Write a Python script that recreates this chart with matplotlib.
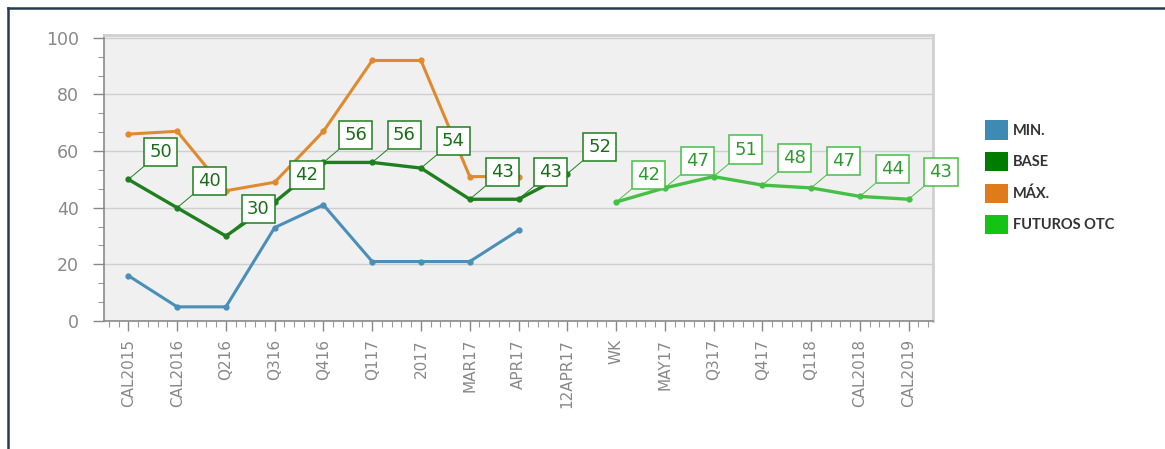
import numpy as np
import matplotlib
matplotlib.use('Agg')
import matplotlib.pyplot as plt
from matplotlib.patches import Patch
from matplotlib.lines import Line2D
from matplotlib.ticker import MultipleLocator, AutoMinorLocator

categories = ['CAL2015', 'CAL2016', 'Q216', 'Q316', 'Q416', 'Q117', '2017',
              'MAR17', 'APR17', '12APR17', 'WK', 'MAY17', 'Q317', 'Q417',
              'Q118', 'CAL2018', 'CAL2019']
nan = np.nan
min_vals  = [16, 5, 5, 33, 41, 21, 21, 21, 32, nan, nan, nan, nan, nan, nan, nan, nan]
max_vals  = [66, 67, 46, 49, 67, 92, 92, 51, 51, nan, nan, nan, nan, nan, nan, nan, nan]
base_vals = [50, 40, 30, 42, 56, 56, 54, 43, 43, 52, nan, nan, nan, nan, nan, nan, nan]
otc_vals  = [nan, nan, nan, nan, nan, nan, nan, nan, nan, nan, 42, 47, 51, 48, 47, 44, 43]

c_min  = '#4a8fb8'
c_max  = '#e08a30'
c_base = '#1f7f1f'
c_otc  = '#45c045'

fig = plt.figure(figsize=(11.65, 4.49), dpi=100)
ax = fig.add_axes([104/1165, 128/449, 829/1165, 286/449])
ax.set_facecolor('#f0f0f0')

x = np.arange(len(categories))
ax.plot(x, min_vals, color=c_min, lw=2.2, marker='o', ms=3.5, zorder=3)
ax.plot(x, max_vals, color=c_max, lw=2.2, marker='o', ms=3.5, zorder=3)
ax.plot(x, base_vals, color=c_base, lw=2.4, marker='o', ms=3.5, zorder=4)
ax.plot(x, otc_vals, color=c_otc, lw=2.4, marker='o', ms=3.5, zorder=4)

# value labels with leader lines
def label_series(vals, col, txtcol):
    for i, v in enumerate(vals):
        if np.isnan(v):
            continue
        ax.annotate('%d' % round(v), xy=(i, v), xytext=(15, 13), textcoords='offset points',
                    ha='left', va='bottom', fontsize=13, color=txtcol, zorder=6,
                    bbox=dict(boxstyle='square,pad=0.28', fc='white', ec=col, lw=1.1),
                    arrowprops=dict(arrowstyle='-', color=col, lw=0.7, shrinkA=0, shrinkB=0))

label_series(base_vals, c_base, '#1a6e1a')
label_series(otc_vals, c_otc, '#2e9a2e')

ax.set_xlim(-0.5, len(categories) - 0.5)
ax.set_ylim(0, 101)
ax.set_xticks(x)
ax.set_xticklabels(categories, rotation=90, fontsize=11, color='#888888')
ax.xaxis.set_minor_locator(AutoMinorLocator(5))
ax.set_yticks([0, 20, 40, 60, 80, 100])
ax.yaxis.set_minor_locator(MultipleLocator(20/3))
ax.tick_params(axis='y', labelsize=12.5, colors='#888888', length=8, width=1, pad=10)
ax.tick_params(axis='x', length=7, width=1, colors='#888888', pad=6)
ax.tick_params(which='minor', length=4, width=0.8, colors='#999999')
ax.grid(axis='y', color='#cfcfcf', lw=1)
ax.set_axisbelow(True)
for s in ['left', 'bottom']:
    ax.spines[s].set_color('#8a8a8a')
    ax.spines[s].set_linewidth(1.2)
for s in ['top', 'right']:
    ax.spines[s].set_color('#d0d0d0')
    ax.spines[s].set_linewidth(2)

handles = [Patch(facecolor='#3d8ab5', label='MIN.'),
           Patch(facecolor='#007d00', label='BASE'),
           Patch(facecolor='#e07b1a', label='MÁX.'),
           Patch(facecolor='#14c414', label='FUTUROS OTC')]
fig.legend(handles=handles, loc='upper left', bbox_to_anchor=(978/1165, 1 - 113/449),
           frameon=False, borderpad=0, handlelength=1.55, handleheight=1.65,
           handletextpad=0.35, labelspacing=0.85,
           prop={'family': 'Lato', 'weight': 'bold', 'size': 10.5}, labelcolor='#333333')

# outer frame
fig.add_artist(Line2D([8/1165, 1], [1 - 8/449, 1 - 8/449], color='#263a52', lw=1.8))
fig.add_artist(Line2D([8/1165, 8/1165], [0, 1 - 8/449], color='#263a52', lw=1.8))

fig.savefig('out.png', dpi=100)
